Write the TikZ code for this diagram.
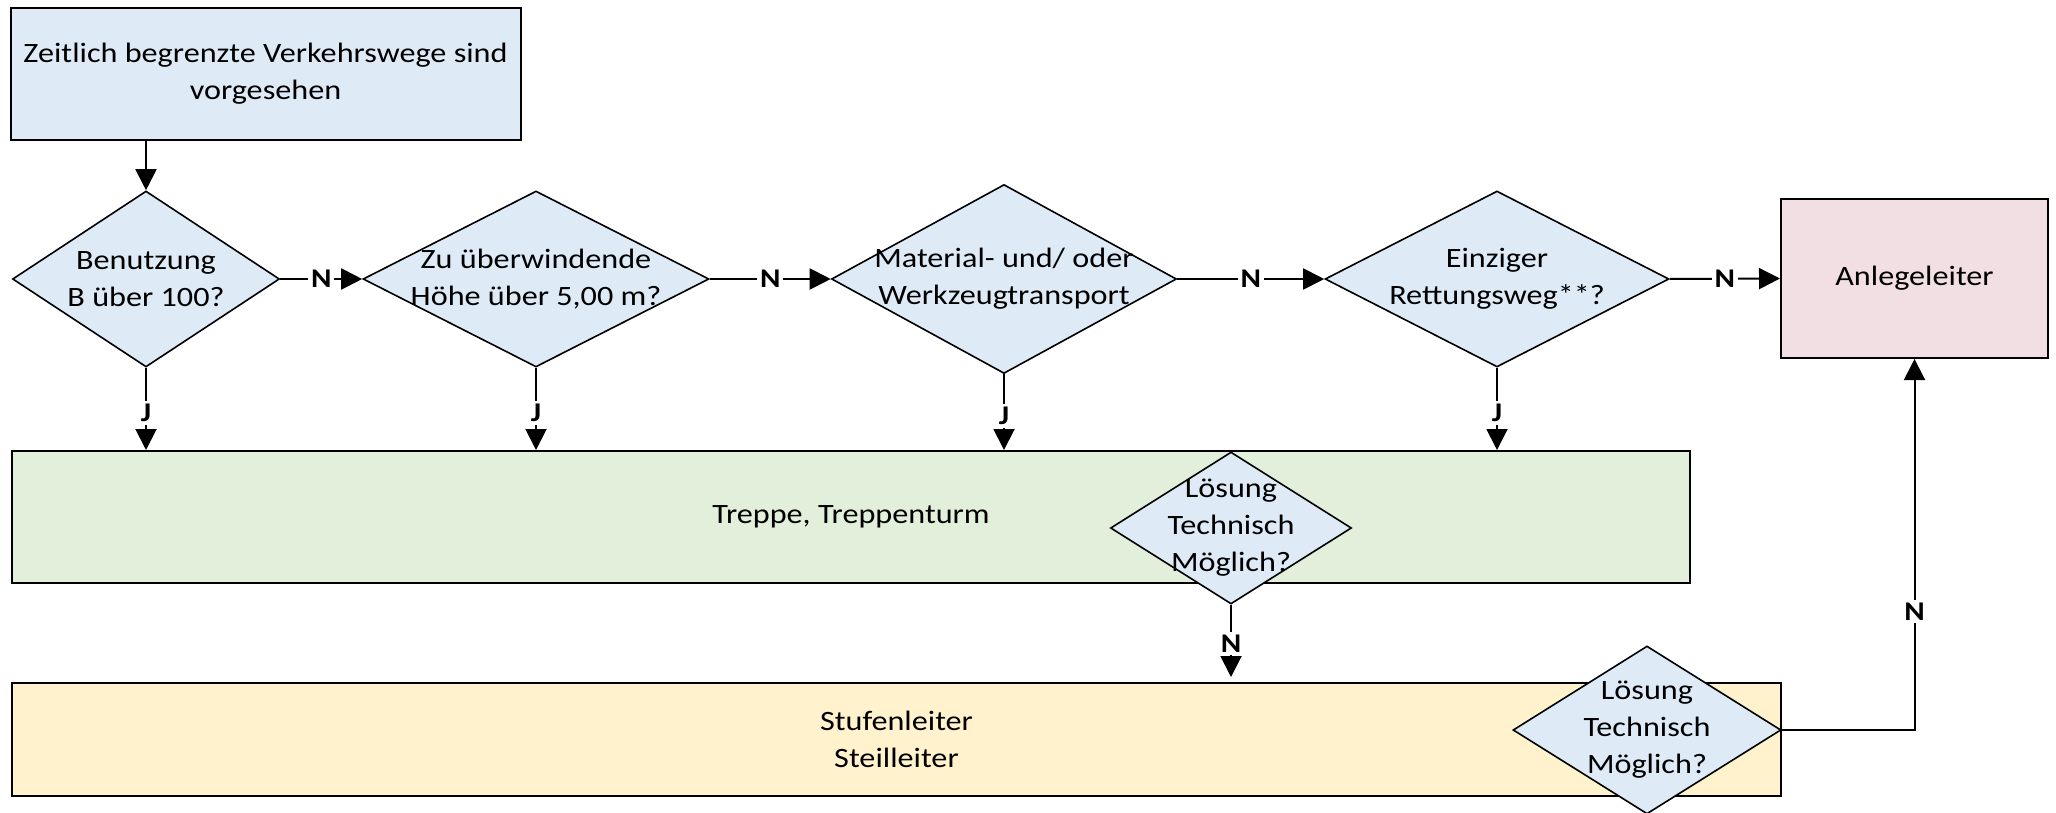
\documentclass[tikz,border=0pt]{standalone}
\usepackage{fontspec}
\setmainfont{Carlito}[FakeStretch=1.15]
\usetikzlibrary{shapes.geometric,arrows.meta,calc}

\definecolor{bluefill}{RGB}{222,235,247}
\definecolor{greenfill}{RGB}{226,239,218}
\definecolor{yellowfill}{RGB}{255,242,204}
\definecolor{pinkfill}{RGB}{242,223,227}

\begin{document}
\begin{tikzpicture}[x=0.5pt,y=-0.5pt,
  font=\fontsize{14}{18.5}\selectfont,
  box/.style={draw, line width=1pt, align=center, inner sep=0pt},
  dec/.style={diamond, draw, line width=0.8pt, fill=bluefill, inner sep=0pt, aspect=1},
  dtext/.style={label={[align=center]center:{#1}}},
  conn/.style={line width=1pt, -{Triangle[length=10.5pt,width=10.5pt]}},
  lbl/.style={fill=white, font=\fontsize{13.5}{16}\selectfont\bfseries, inner sep=1.5pt}
]
\useasboundingbox (0,0) rectangle (2056,813);

\node[box, fill=bluefill, minimum width=255pt, minimum height=66pt] (start) at (265.5,74)
  {Zeitlich begrenzte Verkehrswege sind\\vorgesehen};

\node[dec, minimum width=133.5pt, minimum height=88pt, dtext={Benutzung\\B über 100?}] (d1) at (146,279) {};
\node[dec, minimum width=173pt, minimum height=88pt, dtext={Zu überwindende\\Höhe über 5,00 m?}] (d2) at (536,279) {};
\node[dec, minimum width=172.5pt, minimum height=94.5pt, dtext={Material- und/ oder\\Werkzeugtransport}] (d3) at (1004,279) {};
\node[dec, minimum width=172pt, minimum height=88pt, dtext={Einziger\\Rettungsweg**?}] (d4) at (1497,279) {};

\node[box, fill=pinkfill, minimum width=133.5pt, minimum height=79.5pt] (anl) at (1914.5,278.5) {Anlegeleiter};

\node[box, fill=greenfill, minimum width=839pt, minimum height=66pt] (green) at (851,517) {Treppe, Treppenturm};
\node[dec, minimum width=120.5pt, minimum height=76pt, dtext={Lösung\\Technisch\\Möglich?}] (d5) at (1231,528) {};

\node[box, fill=yellowfill, minimum width=884.5pt, minimum height=56.5pt] (yellow) at (896.5,739.5) {Stufenleiter\\Steilleiter};
\node[dec, minimum width=134pt, minimum height=84pt, dtext={Lösung\\Technisch\\Möglich?}] (d6) at (1647,730) {};

\draw[conn] (start.south -| d1.north) -- (d1.north);
\draw[conn] (d1.east) -- node[lbl] {N} (d2.west);
\draw[conn] (d2.east) -- node[lbl] {N} (d3.west);
\draw[conn] (d3.east) -- node[lbl] {N} (d4.west);
\draw[conn] (d4.east) -- node[lbl] {N} (anl.west);

\draw[conn] (d1.south) -- node[lbl, pos=0.55] {J} (d1.south |- green.north);
\draw[conn] (d2.south) -- node[lbl, pos=0.55] {J} (d2.south |- green.north);
\draw[conn] (d3.south) -- node[lbl, pos=0.55] {J} (d3.south |- green.north);
\draw[conn] (d4.south) -- node[lbl, pos=0.55] {J} (d4.south |- green.north);

\draw[conn, shorten >=2.5pt] (d5.south) -- node[lbl] {N} (d5.south |- yellow.north);
\draw[conn] (d6.east) -| node[lbl, pos=0.66] {N} (anl.south);
\end{tikzpicture}
\end{document}
